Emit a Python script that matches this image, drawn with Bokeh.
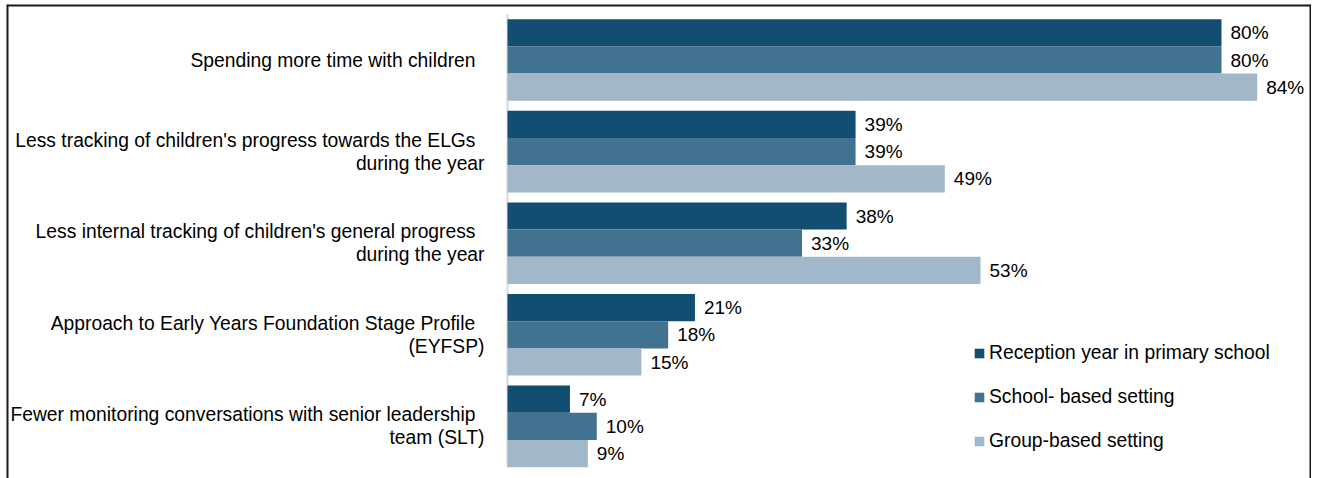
from bokeh.plotting import figure
from bokeh.models import Range1d, Legend, LegendItem, ColumnDataSource
from bokeh.core.properties import value
from bokeh.embed import file_html
from bokeh.resources import INLINE

categories = [
    "Spending more time with children ",
    "Less tracking of children's progress towards the ELGs \nduring the year",
    "Less internal tracking of children's general progress \nduring the year",
    "Approach to Early Years Foundation Stage Profile \n(EYFSP)",
    "Fewer monitoring conversations with senior leadership \nteam (SLT)",
]
series_names = ["Reception year in primary school", "School- based setting", "Group-based setting"]
reception = [80, 39, 38, 21, 7]
school_based = [80, 39, 33, 18, 10]
group_based = [84, 49, 53, 15, 9]
colors = ["#114E72", "#41728F", "#A2B8C8"]

FONT = value("Liberation Sans")
FS_LAB = "19.3px"
FS_VAL = "19px"

LEFT, TOP = 6, 4
W, H = 1305, 474
px_per_unit = 8.925
x_start = -(507 - LEFT) / px_per_unit
x_end = x_start + W / px_per_unit
pitch = 91.6
y_top = -(59.5 - TOP) / pitch
y_bottom = y_top + H / pitch

p = figure(width=W, height=H, output_backend="svg", toolbar_location=None,
           x_range=Range1d(x_start, x_end), y_range=Range1d(y_bottom, y_top),
           min_border=0, min_border_left=0, min_border_right=0,
           min_border_top=0, min_border_bottom=0)
p.margin = (TOP, 0, 0, LEFT)
p.axis.visible = False
p.grid.visible = False
p.outline_line_color = None
p.background_fill_color = "white"
p.border_fill_color = "white"

# chart border: left, top, right (bottom is cut off in the reference)
p.segment(x0=[x_start, x_start, x_end], y0=[y_bottom, y_top, y_top],
          x1=[x_start, x_end, x_end], y1=[y_top, y_top, y_bottom],
          line_color="#1a1a1a", line_width=4)

bar_h = 27.2 / pitch
offsets = [-bar_h, 0, bar_h]
all_series = [reception, school_based, group_based]

# axis line
p.segment(x0=[0], y0=[-0.5], x1=[0], y1=[4.45], line_color="#D9D9D9", line_width=2)

renderers = []
for vals, off, col in zip(all_series, offsets, colors):
    ys = [i + off for i in range(len(vals))]
    src = ColumnDataSource(dict(y=ys, right=vals, lab=[f"{v}%" for v in vals]))
    r = p.hbar(y="y", left=0, right="right", height=bar_h, source=src,
               fill_color=col, line_color=None)
    renderers.append(r)
    p.text(x="right", y="y", text="lab", source=src, x_offset=9,
           text_align="left", text_baseline="middle",
           text_font=FONT, text_font_size=FS_VAL, text_color="black")

# category labels
lx, ly, lt, lxo, lyo = [], [], [], [], []
for i, cat in enumerate(categories):
    lines = cat.split("\n")
    n = len(lines)
    for j, line in enumerate(lines):
        trailing = line.endswith(" ")
        lx.append(0)
        ly.append(i)
        lt.append(line.rstrip())
        lxo.append(-32 if trailing else -23)
        lyo.append((j - (n - 1) / 2) * 23)
p.text(x=lx, y=ly, text=lt, x_offset=lxo, y_offset=lyo,
       text_align="right", text_baseline="middle",
       text_font=FONT, text_font_size=FS_LAB, text_color="black")

legend = Legend(items=[LegendItem(label=n, renderers=[r]) for n, r in zip(series_names, renderers)],
                location=(967, 26), orientation="vertical",
                background_fill_alpha=0, border_line_alpha=0,
                padding=0, margin=0, spacing=22, glyph_width=12, glyph_height=12,
                label_standoff=4, label_height=22,
                label_text_font="Liberation Sans", label_text_font_size=FS_LAB,
                label_text_color="black")
p.add_layout(legend)

open("out.html", "w").write(file_html(p, INLINE))
